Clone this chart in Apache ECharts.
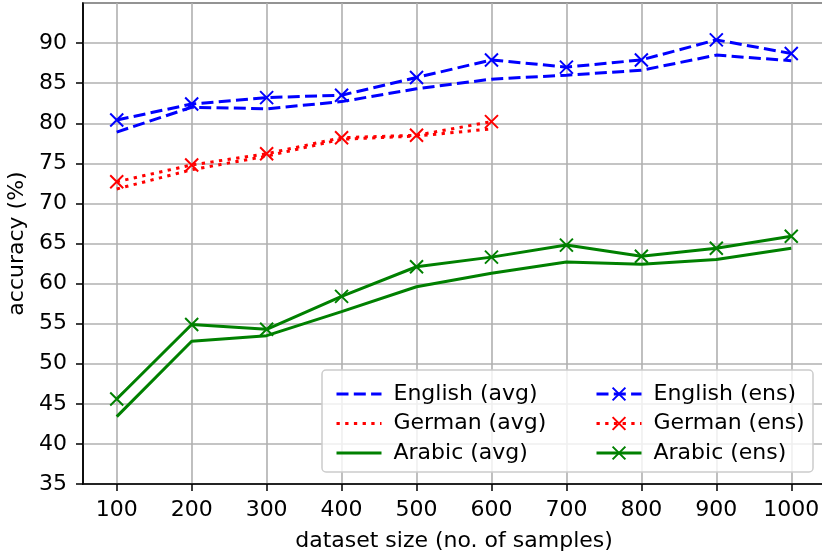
<!DOCTYPE html>
<html>
<head>
<meta charset="utf-8">
<script src="https://cdn.jsdelivr.net/npm/echarts@6/dist/echarts.min.js"></script>
<style>
  html, body { margin: 0; padding: 0; background: #fff; }
  #chart { width: 822px; height: 556px; }
</style>
</head>
<body>
<div id="chart"></div>
<script>
// dataset sizes (x) and accuracy values (%)
const sizes = [100, 200, 300, 400, 500, 600, 700, 800, 900, 1000]
const englishAvg = [78.9, 82.0, 81.8, 82.7, 84.3, 85.5, 86.0, 86.6, 88.5, 87.8]
const englishEns = [80.4, 82.4, 83.2, 83.5, 85.7, 87.9, 87.0, 87.9, 90.4, 88.7]
const germanAvg = [71.8, 74.2, 75.9, 78.0, 78.4, 79.3]
const germanEns = [72.7, 74.8, 76.2, 78.2, 78.5, 80.2]
const arabicAvg = [43.4, 52.8, 53.5, 56.5, 59.6, 61.3, 62.7, 62.4, 63.0, 64.4]
const arabicEns = [45.6, 54.9, 54.3, 58.4, 62.1, 63.3, 64.8, 63.4, 64.4, 65.9]

const FONT = 'DejaVu Sans'
const FS = 22
const xMark = 'path://M0,0L10,10M10,0L0,10'
const pairs = vals => vals.map((v, i) => [sizes[i], v])

const DASHED = [12, 5.3]
const DOTTED = [3.3, 5.4]

const mkSeries = (name, vals, color, dash, withMarker) => ({
  name,
  type: 'line',
  data: pairs(vals),
  symbol: withMarker ? xMark : 'none',
  symbolSize: 13,
  showSymbol: withMarker,
  itemStyle: { color, borderColor: color, borderWidth: 2 },
  lineStyle: { color, width: 3, type: dash, cap: 'butt' },
  emphasis: { disabled: true },
  z: 3
})

// avg entries: line only, no marker in the legend
const noMark = name => ({ name, itemStyle: { opacity: 0 } })

const legendBase = {
  orient: 'vertical', top: 378, z: 60,
  itemWidth: 45, itemHeight: 16, itemGap: 7.5,
  lineStyle: { width: 3 },
  textStyle: { fontSize: FS, color: '#000', fontFamily: FONT, padding: [0, 0, 0, 7] }
}

const chart = echarts.init(document.getElementById('chart'))
chart.setOption({
  animation: false,
  backgroundColor: '#fff',
  textStyle: { fontFamily: FONT },
  grid: {
    left: 83, top: 3, width: 742, height: 481,
    outerBoundsMode: 'none', containLabel: false,
    show: true, borderColor: '#000', borderWidth: 1.5, backgroundColor: '#fff'
  },
  xAxis: {
    type: 'value',
    min: 55, max: 1045,
    name: 'dataset size (no. of samples)',
    nameLocation: 'middle', nameGap: 46,
    nameTextStyle: { fontSize: FS, color: '#000', fontFamily: FONT },
    axisLine: { show: true, lineStyle: { color: '#000', width: 1.5 } },
    axisTick: { show: true, inside: false, length: 7, customValues: sizes, lineStyle: { color: '#000', width: 1.5 } },
    axisLabel: { customValues: sizes, fontSize: FS, color: '#000', margin: 15, fontFamily: FONT, formatter: v => String(v) },
    splitLine: { show: true, lineStyle: { color: '#b0b0b0', width: 1.6 } }
  },
  yAxis: {
    type: 'value',
    min: 35, max: 95, interval: 5,
    name: 'accuracy (%)',
    nameLocation: 'middle', nameGap: 52,
    nameTextStyle: { fontSize: FS, color: '#000', fontFamily: FONT },
    axisLine: { show: true, lineStyle: { color: '#000', width: 1.5 } },
    axisTick: { show: true, length: 7, lineStyle: { color: '#000', width: 1.5 } },
    axisLabel: { fontSize: FS, color: '#000', margin: 16, fontFamily: FONT, showMaxLabel: false },
    splitLine: { show: true, lineStyle: { color: '#b0b0b0', width: 1.6 } }
  },
  graphic: [{
    type: 'rect', z: 50,
    shape: { x: 322, y: 370, width: 491, height: 102, r: 4 },
    style: { fill: 'rgba(255,255,255,0.8)', stroke: '#cccccc', lineWidth: 1.5 }
  }],
  legend: [
    Object.assign({}, legendBase, {
      left: 330,
      data: [noMark('English (avg)'), noMark('German (avg)'), noMark('Arabic (avg)')]
    }),
    Object.assign({}, legendBase, {
      left: 590,
      data: ['English (ens)', 'German (ens)', 'Arabic (ens)']
    })
  ],
  series: [
    mkSeries('English (avg)', englishAvg, '#0000ff', DASHED, false),
    mkSeries('German (avg)', germanAvg, '#ff0000', DOTTED, false),
    mkSeries('Arabic (avg)', arabicAvg, '#008000', 'solid', false),
    mkSeries('English (ens)', englishEns, '#0000ff', DASHED, true),
    mkSeries('German (ens)', germanEns, '#ff0000', DOTTED, true),
    mkSeries('Arabic (ens)', arabicEns, '#008000', 'solid', true)
  ]
})
</script>
</body>
</html>
